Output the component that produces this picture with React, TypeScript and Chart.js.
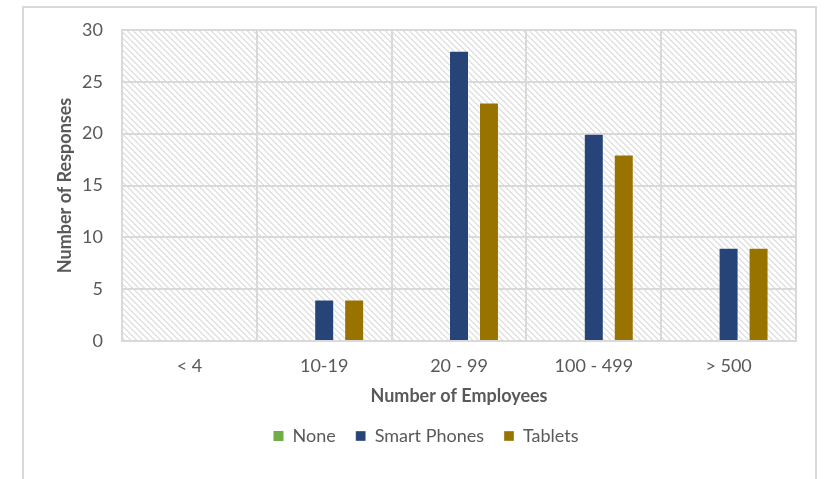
import React, { useEffect, useRef } from "react";
import { Chart, registerables } from "chart.js";

Chart.register(...registerables);

const categories = ["< 4", "10-19", "20 - 99", "100 - 499", "> 500"];
const noneValues = [0, 0, 0, 0, 0];
const smartPhoneValues = [0, 4, 28, 20, 9];
const tabletValues = [0, 4, 23, 18, 9];
const yMin = 0;
const yMax = 30;
const yStep = 5;

const FONT = "Lato, 'Open Sans', sans-serif";
const TEXT = "#595959";
const GRID = "#d9d9d9";

export default function App() {
  const ref = useRef<HTMLCanvasElement>(null);

  useEffect(() => {
    const canvas = ref.current!;
    const n = 6;
    const tile = document.createElement("canvas");
    tile.width = n;
    tile.height = n;
    const tctx = tile.getContext("2d")!;
    tctx.fillStyle = "#ffffff";
    tctx.fillRect(0, 0, n, n);
    tctx.fillStyle = "#e2e2e2";
    for (let y = 0; y < n; y++)
      for (let x = 0; x < n; x++)
        if ((((x - y) % n) + n) % n < 2) tctx.fillRect(x, y, 1, 1);

    const hatch = {
      id: "hatch",
      beforeDraw(chart: any) {
        const { ctx, chartArea } = chart;
        const pattern = ctx.createPattern(tile, "repeat");
        ctx.save();
        ctx.fillStyle = pattern;
        ctx.fillRect(chartArea.left, chartArea.top, chartArea.right - chartArea.left, chartArea.bottom - chartArea.top);
        ctx.restore();
      },
    };

    const chart = new Chart(canvas, {
      type: "bar",
      data: {
        labels: categories,
        datasets: [
          { label: "None", data: noneValues, backgroundColor: "#70ad47", borderWidth: 0 },
          { label: "Smart Phones", data: smartPhoneValues, backgroundColor: "#264478", borderColor: "rgba(255,255,255,0.35)", borderWidth: 1 },
          { label: "Tablets", data: tabletValues, backgroundColor: "#997300", borderColor: "rgba(255,255,255,0.35)", borderWidth: 1 },
        ],
      },
      plugins: [hatch],
      options: {
        animation: false,
        responsive: false,
        maintainAspectRatio: false,
        layout: { padding: { left: 56, right: 29, top: 30, bottom: 24 } },
        datasets: { bar: { categoryPercentage: 0.667, barPercentage: 0.667 } },
        plugins: {
          tooltip: { enabled: false },
          legend: {
            position: "bottom",
            labels: {
              boxWidth: 10,
              boxHeight: 10,
              padding: 20,
              color: TEXT,
              font: { family: FONT, size: 18 },
            },
          },
        },
        scales: {
          x: {
            grid: { color: GRID, lineWidth: 2, drawTicks: false, offset: true },
            border: { color: GRID, width: 2 },
            ticks: { color: TEXT, padding: 14, font: { family: FONT, size: 18 } },
            title: {
              display: true,
              text: "Number of Employees",
              color: TEXT,
              font: { family: FONT, size: 18, weight: "bold" },
              padding: { top: 0, bottom: 0 },
            },
            afterFit(scale: any) {
              scale.height = 66;
            },
          },
          y: {
            min: yMin,
            max: yMax,
            grid: { color: GRID, lineWidth: 2, drawTicks: false },
            border: { color: GRID, width: 2 },
            ticks: { stepSize: yStep, color: TEXT, padding: 19, font: { family: FONT, size: 18 } },
            title: {
              display: true,
              text: "Number of Responses",
              color: TEXT,
              font: { family: FONT, size: 18, weight: "bold", lineHeight: 1 },
              padding: { top: 0, bottom: 0 },
            },
            afterFit(scale: any) {
              scale.width = 66;
            },
          },
        },
      },
    } as any);
    return () => chart.destroy();
  }, []);

  return (
    <div style={{ position: "absolute", left: 0, top: 0, width: 825, height: 479, overflow: "hidden", background: "#fff" }}>
      <div
        style={{
          position: "absolute",
          left: 22,
          top: 6,
          width: 795,
          height: 520,
          border: `2px solid ${GRID}`,
          boxSizing: "border-box",
        }}
      />
      <canvas ref={ref} width={825} height={479} style={{ position: "absolute", left: 0, top: 0 }} />
    </div>
  );
}
